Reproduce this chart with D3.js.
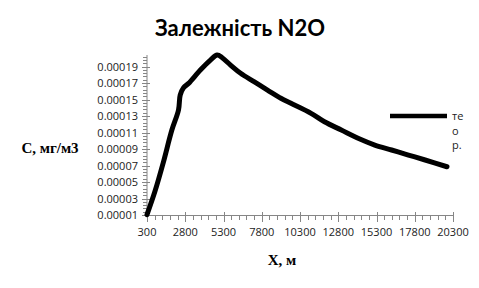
<!DOCTYPE html>
<html>
<head>
<meta charset="utf-8">
<script src="https://cdn.jsdelivr.net/npm/d3@7"></script>
<style>
  body { margin: 0; background: #fff; }
  svg { display: block; }
</style>
</head>
<body>
<script>
// distance, m
const xs = [300, 826, 1372, 1925, 2359, 2471, 2688, 3017, 3787, 4445, 4886, 5215,
  5761, 6419, 7294, 8175, 9050, 9708, 11024, 11899, 13000, 14096, 15188, 16287,
  17386, 18478, 19906];
// concentration, mg/m3
const cs = [0.0000105, 0.0000391, 0.0000742, 0.000113, 0.0001373, 0.0001555,
  0.0001643, 0.0001696, 0.0001858, 0.0001979, 0.0002039, 0.0002007, 0.0001918,
  0.0001818, 0.0001716, 0.0001615, 0.0001515, 0.0001454, 0.0001333, 0.0001231,
  0.000113, 0.000103, 0.0000948, 0.0000888, 0.0000827, 0.0000767, 0.0000685];
const xTicks = [300, 2800, 5300, 7800, 10300, 12800, 15300, 17800, 20300];
const yTicks = [0.00001, 0.00003, 0.00005, 0.00007, 0.00009, 0.00011, 0.00013,
  0.00015, 0.00017, 0.00019];

const width = 479, height = 288;
const svg = d3.select("body").append("svg")
  .attr("width", width)
  .attr("height", height);

const x = d3.scaleLinear().domain([300, 20300]).range([147, 453]);
const y = d3.scaleLinear().domain([0.00001, 0.000204]).range([215, 55]);

const grey = "#868686";
const tickFont = "'Open Sans', sans-serif";

// title
svg.append("text")
  .attr("x", 240).attr("y", 36)
  .attr("text-anchor", "middle")
  .attr("font-family", "Lato, sans-serif")
  .attr("font-weight", "bold")
  .attr("font-size", 22)
  .text("Залежність N2O");

// y axis: minor ticks every 0.000004
const yMinor = d3.range(0, 49).map(i => 0.00001 + i * 0.000004).filter(v => v <= 0.000204);
svg.append("line")
  .attr("x1", x(300)).attr("x2", x(300))
  .attr("y1", y(0.00001)).attr("y2", y(0.000204))
  .attr("stroke", grey);
svg.selectAll(".yminor").data(yMinor).enter().append("line")
  .attr("x1", x(300) - 4).attr("x2", x(300))
  .attr("y1", d => Math.round(y(d)) + 0.5).attr("y2", d => Math.round(y(d)) + 0.5)
  .attr("stroke", grey);
svg.selectAll(".ymajor").data(yTicks).enter().append("line")
  .attr("x1", x(300) - 5).attr("x2", x(300) + 3)
  .attr("y1", d => Math.round(y(d)) + 0.5).attr("y2", d => Math.round(y(d)) + 0.5)
  .attr("stroke", grey);
svg.selectAll(".ylab").data(yTicks).enter().append("text")
  .attr("x", 138)
  .attr("y", d => y(d) + 4)
  .attr("text-anchor", "end")
  .attr("font-family", tickFont)
  .attr("font-size", 11)
  .attr("fill", "#222")
  .text(d => d.toFixed(5));

// x axis: minor ticks every 500
const xMinor = d3.range(300, 20301, 500);
svg.append("line")
  .attr("x1", x(300)).attr("x2", x(20300))
  .attr("y1", 215.5).attr("y2", 215.5)
  .attr("stroke", grey);
svg.selectAll(".xminor").data(xMinor).enter().append("line")
  .attr("x1", d => Math.round(x(d)) + 0.5).attr("x2", d => Math.round(x(d)) + 0.5)
  .attr("y1", 215.5).attr("y2", 220)
  .attr("stroke", grey);
svg.selectAll(".xmajor").data(xTicks).enter().append("line")
  .attr("x1", d => Math.round(x(d)) + 0.5).attr("x2", d => Math.round(x(d)) + 0.5)
  .attr("y1", 212).attr("y2", 222)
  .attr("stroke", grey);
svg.selectAll(".xlab").data(xTicks).enter().append("text")
  .attr("x", d => x(d))
  .attr("y", 236)
  .attr("text-anchor", "middle")
  .attr("font-family", tickFont)
  .attr("font-size", 11)
  .attr("fill", "#222")
  .text(d => d);

// axis titles
svg.append("text")
  .attr("x", 50).attr("y", 153)
  .attr("text-anchor", "middle")
  .attr("font-family", "'Liberation Serif', serif")
  .attr("font-weight", "bold")
  .attr("font-size", 15)
  .text("C, мг/м3");
svg.append("text")
  .attr("x", 282).attr("y", 265)
  .attr("text-anchor", "middle")
  .attr("font-family", "'Liberation Serif', serif")
  .attr("font-weight", "bold")
  .attr("font-size", 15)
  .text("X, м");

// curve
const line = d3.line()
  .x((d, i) => x(xs[i]))
  .y(d => y(d))
  .curve(d3.curveCatmullRom);
svg.append("path")
  .datum(cs)
  .attr("d", line)
  .attr("fill", "none")
  .attr("stroke", "#000")
  .attr("stroke-width", 5)
  .attr("stroke-linejoin", "round")
  .attr("stroke-linecap", "round");

// legend (text wraps in a narrow box)
svg.append("line")
  .attr("x1", 390).attr("x2", 447)
  .attr("y1", 116).attr("y2", 116)
  .attr("stroke", "#000")
  .attr("stroke-width", 4.5);
const leg = svg.append("text")
  .attr("font-family", tickFont)
  .attr("font-size", 11)
  .attr("fill", "#222");
["те", "о", "р."].forEach((t, i) => {
  leg.append("tspan")
    .attr("x", 452)
    .attr("y", 120 + i * 14.5)
    .text(t);
});
</script>
</body>
</html>
